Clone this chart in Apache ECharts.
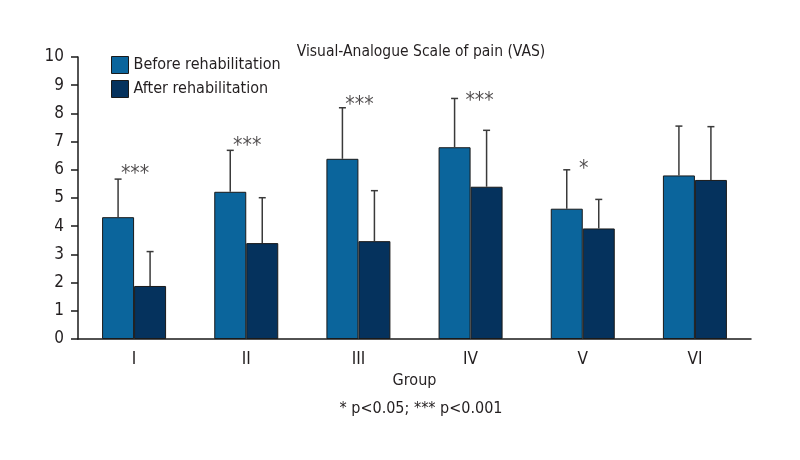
<!DOCTYPE html>
<html>
<head>
<meta charset="utf-8">
<script src="https://cdn.jsdelivr.net/npm/echarts@6/dist/echarts.min.js"></script>
<style>
  html, body { margin: 0; padding: 0; background: #fff; }
  #main { width: 800px; height: 460px; }
</style>
</head>
<body>
<div id="main"></div>
<script>
// data
const groups = ['I', 'II', 'III', 'IV', 'V', 'VI'];
const beforeMean = [4.32, 5.22, 6.39, 6.80, 4.62, 5.80];
const beforeErrTop = [5.67, 6.69, 8.20, 8.53, 6.00, 7.55];
const afterMean = [1.88, 3.40, 3.47, 5.40, 3.92, 5.64];
const afterErrTop = [3.10, 5.01, 5.26, 7.40, 4.95, 7.53];
const sigMarks = ['***', '***', '***', '***', '*', ''];
const sigY = [6.0, 7.0, 8.47, 8.59, 6.2, 0];
const yTicks = [0, 10, 1]; // min, max, interval

const FONT = "'Liberation Sans Narrow', 'DejaVu Sans Condensed', sans-serif";
const TXT = '#231f20';
const BAR_W = 32;

const chart = echarts.init(document.getElementById('main'));

// upward error bar with small cap, drawn on top of a bar
function errorBar(shift) {
  return function (params, api) {
    const i = api.value(0);
    const base = api.coord([i, api.value(1)]);
    const top = api.coord([i, api.value(2)]);
    const x = base[0] + shift;
    return {
      type: 'group',
      children: [
        { type: 'line', shape: { x1: x, y1: base[1], x2: x, y2: top[1] },
          style: { stroke: '#3a3a3a', lineWidth: 1.5 } },
        { type: 'line', shape: { x1: x - 3.5, y1: top[1], x2: x + 3.5, y2: top[1] },
          style: { stroke: '#3a3a3a', lineWidth: 1.5 } }
      ]
    };
  };
}

chart.setOption({
  animation: false,
  title: [
    {
      text: 'Visual-Analogue Scale of pain (VAS)',
      left: 416, top: 39, textAlign: 'center',
      textStyle: { fontFamily: FONT, fontSize: 15.5, fontWeight: 'normal', color: TXT }
    },
    {
      text: '* p<0.05; *** p<0.001',
      left: 416, top: 396, textAlign: 'center',
      textStyle: { fontFamily: FONT, fontSize: 16, fontWeight: 'normal', color: TXT }
    }
  ],
  legend: {
    orient: 'vertical',
    left: 106, top: 51,
    itemWidth: 17, itemHeight: 17, itemGap: 6,
    icon: 'rect',
    itemStyle: { borderColor: '#1a1a1a', borderWidth: 1 },
    textStyle: { fontFamily: FONT, fontSize: 16, lineHeight: 17, color: TXT },
    data: ['Before rehabilitation', 'After rehabilitation']
  },
  grid: { left: 78, right: 49, top: 57, bottom: 121 },
  xAxis: {
    type: 'category',
    data: groups,
    name: 'Group',
    nameLocation: 'middle',
    nameGap: 30,
    nameTextStyle: { fontFamily: FONT, fontSize: 16, color: TXT },
    axisLine: { lineStyle: { color: '#1a1a1a', width: 1.5 } },
    axisTick: { length: 6, lineStyle: { color: '#1a1a1a', width: 1.5 } },
    axisLabel: { fontFamily: FONT, fontSize: 17, color: TXT, margin: 12 }
  },
  yAxis: {
    type: 'value',
    min: yTicks[0], max: yTicks[1], interval: yTicks[2],
    splitLine: { show: false },
    axisLine: { show: true, lineStyle: { color: '#1a1a1a', width: 1.5 } },
    axisTick: { show: true, length: 7, lineStyle: { color: '#1a1a1a', width: 1.5 } },
    axisLabel: { fontFamily: FONT, fontSize: 17, color: TXT, margin: 14 }
  },
  series: [
    {
      name: 'Before rehabilitation',
      type: 'bar',
      barWidth: BAR_W,
      barGap: '0%',
      itemStyle: { color: '#0b659c', borderColor: '#1a1a1a', borderWidth: 1 },
      data: beforeMean
    },
    {
      name: 'After rehabilitation',
      type: 'bar',
      barWidth: BAR_W,
      barGap: '0%',
      itemStyle: { color: '#05325d', borderColor: '#1a1a1a', borderWidth: 1 },
      data: afterMean
    },
    {
      type: 'custom',
      renderItem: errorBar(-BAR_W / 2),
      z: 3,
      data: groups.map((g, i) => [i, beforeMean[i], beforeErrTop[i]])
    },
    {
      type: 'custom',
      renderItem: errorBar(BAR_W / 2),
      z: 3,
      data: groups.map((g, i) => [i, afterMean[i], afterErrTop[i]])
    },
    {
      type: 'scatter',
      symbolSize: 0,
      z: 4,
      label: {
        show: true,
        position: 'inside',
        offset: [1, 5],
        fontFamily: FONT,
        fontSize: 21,
        color: TXT,
        formatter: p => sigMarks[p.dataIndex]
      },
      data: groups.map((g, i) => ({
        value: [i, sigY[i]],
        label: i === 3 ? { offset: [9, 5] } : undefined
      })).filter((d, i) => sigMarks[i] !== '')
    }
  ]
});
window.onresize = () => chart.resize();
</script>
</body>
</html>
